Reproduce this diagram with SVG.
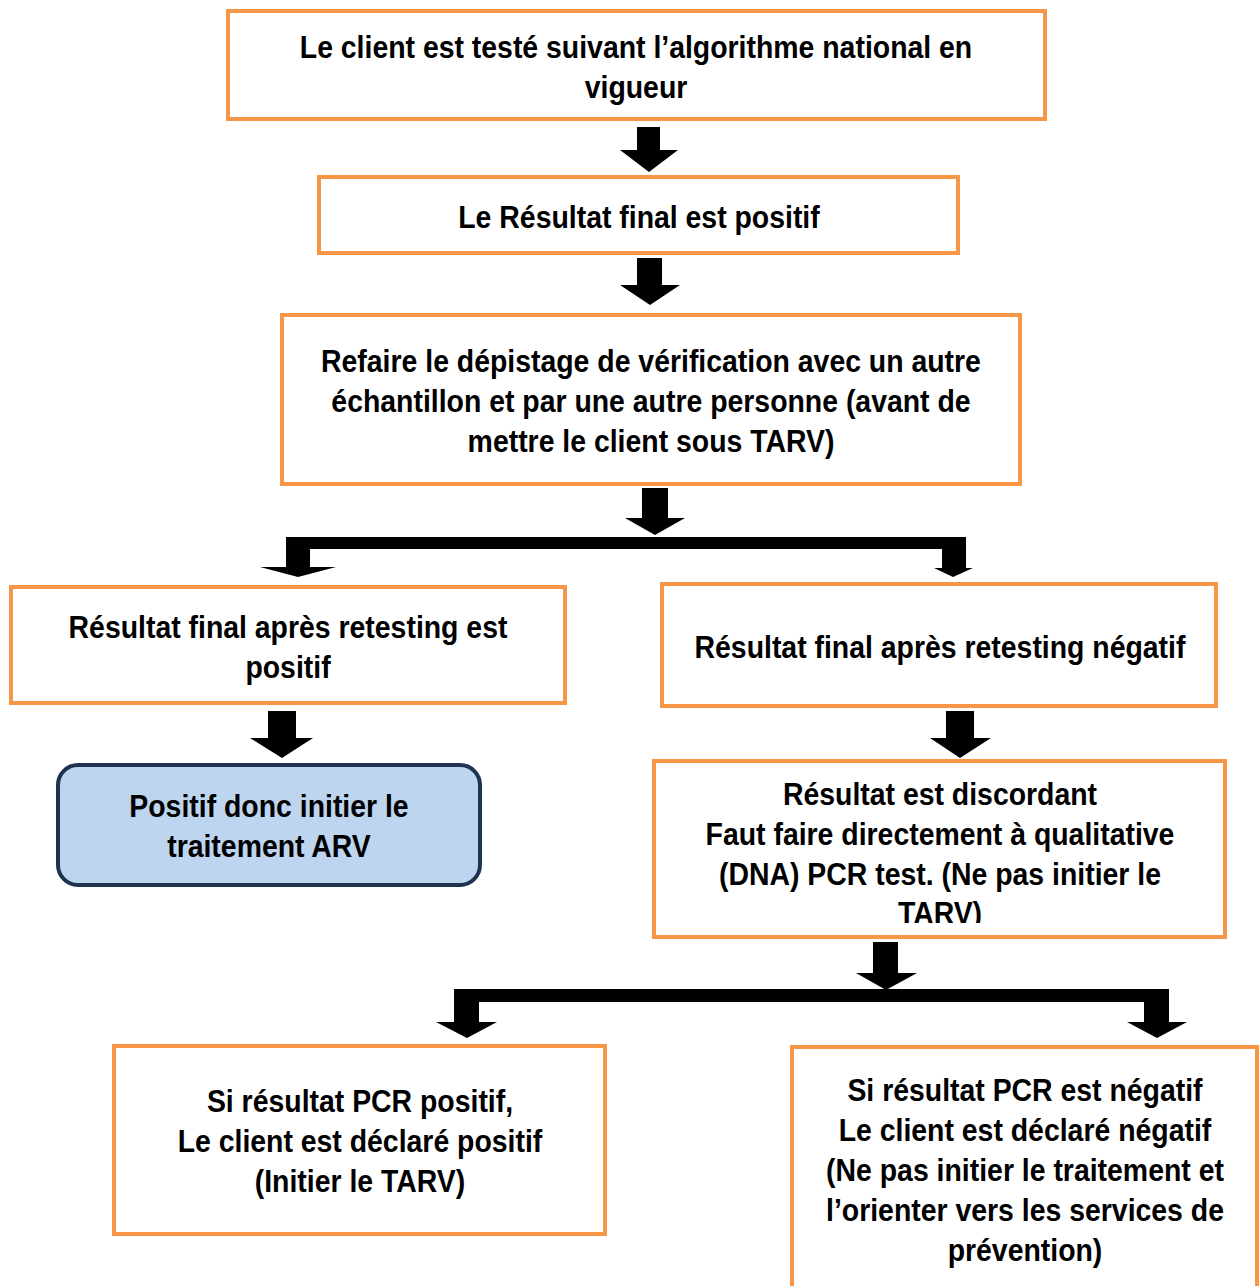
<svg xmlns="http://www.w3.org/2000/svg" width="1260" height="1286" viewBox="0 0 1260 1286">
<style>
.box{fill:#fff;stroke:#F79646;stroke-width:4}
.t{font-family:"Liberation Sans Narrow","Arial Narrow","Liberation Sans",sans-serif;font-weight:bold;font-size:32px;fill:#000;text-anchor:middle}
.ar{fill:#000}
</style>
<defs>
<clipPath id="c7"><rect x="653" y="760" width="573" height="163"/></clipPath>
</defs>
<rect width="1260" height="1286" fill="#fff"/>
<g id="n1"><rect class="box" x="228" y="11" width="817" height="108"/>
<g transform="matrix(0.888 0 0 1 71.23 0)">
<text class="t" x="636" y="58">Le client est testé suivant l’algorithme national en</text>
<text class="t" x="636" y="98">vigueur</text></g></g>
<g id="n2"><rect class="box" x="319" y="177" width="639" height="76"/>
<g transform="matrix(0.888 0 0 1 71.57 0)">
<text class="t" x="639" y="228">Le Résultat final est positif</text></g></g>
<g id="n3"><rect class="box" x="282" y="315" width="738" height="169"/>
<g transform="matrix(0.888 0 0 1 72.91 0)">
<text class="t" x="651" y="372">Refaire le dépistage de vérification avec un autre</text>
<text class="t" x="651" y="412">échantillon et par une autre personne (avant de</text>
<text class="t" x="651" y="452">mettre le client sous TARV)</text></g></g>
<g id="n4"><rect class="box" x="11" y="587" width="554" height="116"/>
<g transform="matrix(0.888 0 0 1 32.26 0)">
<text class="t" x="288" y="638">Résultat final après retesting est</text>
<text class="t" x="288" y="678">positif</text></g></g>
<g id="n5"><rect class="box" x="662" y="584" width="554" height="122"/>
<g transform="matrix(0.888 0 0 1 105.28 0)">
<text class="t" x="940" y="658">Résultat final après retesting négatif</text></g></g>
<g id="n6"><rect x="58" y="765" width="422" height="120" rx="20" fill="#BDD5EE" stroke="#1F3350" stroke-width="4"/>
<g transform="matrix(0.888 0 0 1 30.13 0)">
<text class="t" x="269" y="817">Positif donc initier le</text>
<text class="t" x="269" y="857">traitement ARV</text></g></g>
<g id="n7"><rect class="box" x="654" y="761" width="571" height="176"/>
<g clip-path="url(#c7)"><g transform="matrix(0.888 0 0 1 105.28 0)">
<text class="t" x="940" y="805">Résultat est discordant</text>
<text class="t" x="940" y="845">Faut faire directement à qualitative</text>
<text class="t" x="940" y="885">(DNA) PCR test. (Ne pas initier le</text>
<text class="t" x="940" y="924">TARV)</text></g></g></g>
<g id="n8"><rect class="box" x="114" y="1046" width="491" height="188"/>
<g transform="matrix(0.888 0 0 1 40.32 0)">
<text class="t" x="360" y="1112">Si résultat PCR positif,</text>
<text class="t" x="360" y="1152">Le client est déclaré positif</text>
<text class="t" x="360" y="1192">(Initier le TARV)</text></g></g>
<g id="n9"><rect class="box" x="792" y="1047" width="465" height="245"/>
<g transform="matrix(0.888 0 0 1 114.8 0)">
<text class="t" x="1025" y="1101">Si résultat PCR est négatif</text>
<text class="t" x="1025" y="1141">Le client est déclaré négatif</text>
<text class="t" x="1025" y="1181">(Ne pas initier le traitement et</text>
<text class="t" x="1025" y="1221">l’orienter vers les services de</text>
<text class="t" x="1025" y="1261">prévention)</text></g></g>
<g id="connectors" class="ar">
<polygon points="637,127 660,127 660,150 678,150 649,172 620,150 637,150"/>
<polygon points="637,258 662,258 662,285 680,285 650,305 620,285 637,285"/>
<polygon points="642,488 668,488 668,518 685,518 655,535 625,518 642,518"/>
<polygon points="286,537 966,537 966,568 973,568 953,577 934,568 942,568 942,549 310,549 310,567 336,567 298,577 260,567 286,567"/>
<polygon points="268,711 296,711 296,738 313,738 282,758 250,738 268,738"/>
<polygon points="946,711 974,711 974,738 991,738 960,758 930,738 946,738"/>
<polygon points="873,942 898,942 898,973 917,973 886,990 856,973 873,973"/>
<polygon points="454,989 1169,989 1169,1022 1187,1022 1157,1038 1127,1022 1144,1022 1144,1002 479,1002 479,1022 497,1022 467,1038 436,1022 454,1022"/>
</g>
</svg>
